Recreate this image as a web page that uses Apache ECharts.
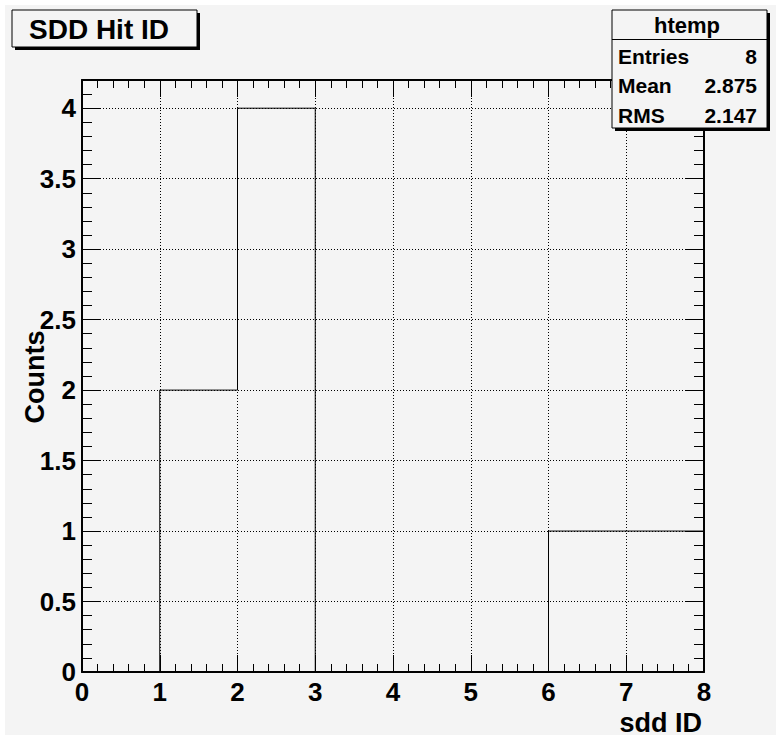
<!DOCTYPE html>
<html>
<head>
<meta charset="utf-8">
<title>SDD Hit ID</title>
<script src="https://cdn.jsdelivr.net/npm/echarts@6/dist/echarts.min.js"></script>
<style>
  html, body { margin: 0; padding: 0; background: #ffffff; }
  #chart { width: 776px; height: 737px; }
</style>
</head>
<body>
<div id="chart"></div>
<script>
// Histogram "htemp": one bin per SDD id, low edges and counts
const binLowEdges = [0, 1, 2, 3, 4, 5, 6, 7];
const binCounts = [0, 2, 4, 0, 0, 0, 1, 1];
const binWidth = 1;

const histName = 'htemp';
const titleText = 'SDD Hit ID';
const xTitle = 'sdd ID';
const yTitle = 'Counts';

// Summary statistics from the filled bins
const entries = binCounts.reduce((a, b) => a + b, 0);
const mean = binLowEdges.reduce((s, x, i) => s + x * binCounts[i], 0) / entries;
const meanSq = binLowEdges.reduce((s, x, i) => s + x * x * binCounts[i], 0) / entries;
const rms = Math.sqrt(meanSq - mean * mean);
const statRows = [
  ['Entries', String(entries)],
  ['Mean', mean.toFixed(3)],
  ['RMS', rms.toFixed(3)]
];

// Step outline: each bin drawn flat across its width, closed at the upper edge
const stepPoints = binLowEdges.map((x, i) => [x, binCounts[i]]);
stepPoints.push([binLowEdges[binLowEdges.length - 1] + binWidth, 0]);

const FONT = 'Liberation Sans, Arial, Helvetica, sans-serif';
const BG = '#f4f4f4';

const chart = echarts.init(document.getElementById('chart'), null, { renderer: 'svg' });

const frameLine = { show: true, onZero: false, lineStyle: { color: '#000', width: 2 } };
const tickLabel = { fontFamily: FONT, fontWeight: 'bold', fontSize: 26, color: '#000' };
const dotted = { show: true, lineStyle: { color: '#000', width: 1, type: [1, 2] } };

function xAxisDef(pos, withLabels) {
  return {
    type: 'value', position: pos, min: 0, max: 8, interval: 1,
    axisLine: frameLine,
    axisTick: { show: true, inside: true, length: 17, lineStyle: { color: '#000', width: 1 } },
    minorTick: { show: true, splitNumber: 5, length: 8, lineStyle: { color: '#000', width: 1 } },
    axisLabel: withLabels ? Object.assign({ margin: 7 }, tickLabel) : { show: false },
    splitLine: withLabels ? dotted : { show: false },
    minorSplitLine: { show: false }
  };
}

function yAxisDef(pos, major) {
  const ax = {
    type: 'value', position: pos, min: 0, max: 4.2,
    interval: major ? 0.5 : 0.1,
    axisLine: major ? frameLine : { show: false, onZero: false },
    axisTick: { show: true, inside: true, length: major ? 18 : 10, lineStyle: { color: '#000', width: 1 } },
    axisLabel: { show: false },
    splitLine: { show: false }
  };
  if (major && pos === 'left') {
    ax.axisLabel = Object.assign({ show: true, margin: 6, showMaxLabel: false }, tickLabel);
    ax.splitLine = dotted;
  }
  return ax;
}

// Boxes and free text sit above the plot frame
const TOP_Z = 100;

function boxWithShadow(x, y, w, h) {
  return [
    { type: 'rect', z: TOP_Z, shape: { x: x + 3, y: y + 3, width: w, height: h }, style: { fill: '#000' }, silent: true },
    { type: 'rect', z: TOP_Z, shape: { x: x, y: y, width: w, height: h }, style: { fill: BG, stroke: '#000', lineWidth: 1 }, silent: true }
  ];
}

function label(x, y, text, size, align, rotation) {
  return {
    type: 'text', z: TOP_Z + 1, x: x, y: y, rotation: rotation || 0, silent: true,
    style: { text: text, fontFamily: FONT, fontWeight: 'bold', fontSize: size, fill: '#000', align: align, verticalAlign: 'middle' }
  };
}

const statsX = 612, statsY = 10, statsW = 155, statsH = 118;
const graphics = [
  { type: 'rect', z: -10, shape: { x: 5, y: 5, width: 771, height: 730 }, style: { fill: BG }, silent: true },
  ...boxWithShadow(12, 10, 185, 37),
  label(29, 29, titleText, 28, 'left'),
  ...boxWithShadow(statsX, statsY, statsW, statsH),
  { type: 'line', z: TOP_Z + 1, shape: { x1: statsX, y1: 39.5, x2: statsX + statsW, y2: 39.5 }, style: { stroke: '#000', lineWidth: 1 }, silent: true },
  label(687, 25, histName, 22, 'center'),
  label(702, 723, xTitle, 27, 'right'),
  label(35, 377, yTitle, 27, 'center', Math.PI / 2)
];
statRows.forEach((row, i) => {
  const mid = 56 + i * 29.5;
  graphics.push(label(618, mid, row[0], 21, 'left'));
  graphics.push(label(757, mid, row[1], 21, 'right'));
});

chart.setOption({
  animation: false,
  backgroundColor: '#ffffff',
  grid: { left: 82, right: 72, top: 80, bottom: 65, containLabel: false },
  xAxis: [xAxisDef('bottom', true), xAxisDef('top', false)],
  yAxis: [yAxisDef('left', true), yAxisDef('left', false), yAxisDef('right', true), yAxisDef('right', false)],
  series: [{
    name: histName,
    type: 'line',
    xAxisIndex: 0,
    yAxisIndex: 0,
    step: 'end',
    symbol: 'none',
    lineStyle: { color: '#000', width: 1 },
    data: stepPoints,
    z: 3
  }],
  graphic: graphics
});
</script>
</body>
</html>
